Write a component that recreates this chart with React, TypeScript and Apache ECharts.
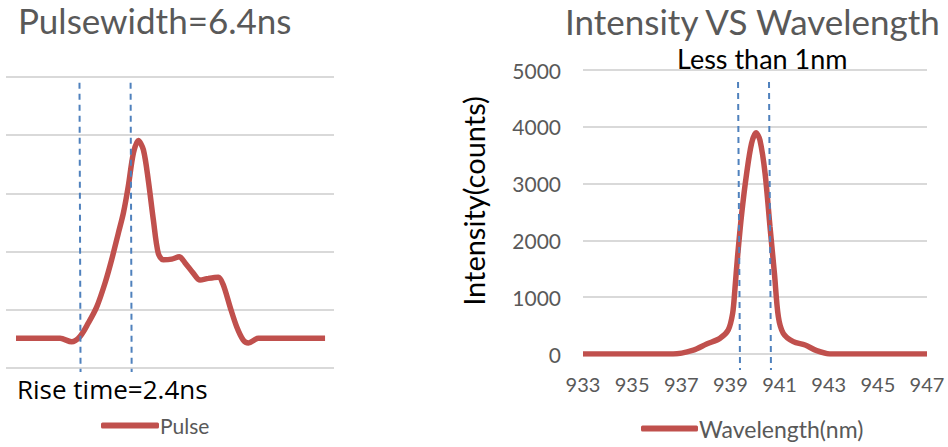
import React, { useEffect, useRef } from "react";
import * as echarts from "echarts";

// Left panel: pulse (time in ns, arbitrary amplitude units)
const pulseTime = [0.47, 2.54, 3.08, 3.47, 3.86, 4.26, 4.65, 4.96, 5.27, 5.51, 5.74, 5.98, 6.21, 6.45, 6.68, 6.92, 7.15, 7.38, 7.78, 8.14, 8.4, 8.79, 9.11, 9.5, 9.97, 10.2, 10.52, 10.83, 11.14, 11.38, 11.85, 14.98];
const pulseAmp = [0.51, 0.51, 0.45, 0.54, 0.77, 1.05, 1.46, 1.86, 2.31, 2.66, 3.12, 3.69, 3.91, 3.75, 3.23, 2.54, 1.97, 1.86, 1.87, 1.91, 1.81, 1.63, 1.51, 1.54, 1.56, 1.43, 1.05, 0.71, 0.48, 0.43, 0.51, 0.51];
const riseStartX = [3.45, 3.5];
const riseEndX = [5.85, 5.9];
const riseLineY = [4.9, -0.07];

// Right panel: spectrum
const wavelength = [933.0, 936.67, 937.49, 938.03, 938.57, 938.91, 939.09, 939.18, 939.29, 939.46, 939.66, 939.86, 940.04, 940.2, 940.41, 940.61, 940.79, 940.95, 941.15, 941.56, 942.04, 942.51, 943.05, 947.0];
const intensity = [0, 0, 70, 176, 276, 423, 716, 1127, 1713, 2477, 3181, 3709, 3896, 3768, 3181, 2241, 1420, 657, 364, 217, 158, 58, 0, 0];
const fwhmLeftX = [939.31, 939.39];
const fwhmRightX = [940.57, 940.65];
const fwhmLineY = [4789, -282];

const FONT = "Lato";
const RED = "#C0504D";
const BLUE = "#4F81BD";
const GRAY = "#595959";
const GRID = "#D9D9D9";

export default function App() {
  const ref = useRef<HTMLDivElement>(null);
  useEffect(() => {
    if (!ref.current) return;
    const chart = echarts.init(ref.current, null, { renderer: "svg" });
    const dash = (xs: number[], ys: number[], xi: number) => ({
      type: "line",
      xAxisIndex: xi,
      yAxisIndex: xi,
      data: [[xs[0], ys[0]], [xs[1], ys[1]]],
      showSymbol: false,
      symbol: "none",
      clip: false,
      silent: true,
      lineStyle: { color: BLUE, width: 2, type: [6, 5] },
      z: 3,
    });
    chart.setOption({
      animation: false,
      textStyle: { fontFamily: FONT },
      grid: [
        { left: 6, right: 614, top: 77, bottom: 79 },
        { left: 583, right: 21, top: 70, bottom: 93 },
      ],
      xAxis: [
        { type: "value", gridIndex: 0, min: 0, max: 15.4, show: false, splitLine: { show: false } },
        {
          type: "value", gridIndex: 1, min: 933, max: 947, interval: 2,
          axisLine: { show: false }, axisTick: { show: false }, splitLine: { show: false },
          axisLabel: { color: GRAY, fontSize: 20, fontFamily: FONT, margin: 20, formatter: (v: number) => String(v) },
        },
      ],
      yAxis: [
        {
          type: "value", gridIndex: 0, min: 0, max: 5, interval: 1,
          axisLine: { show: false }, axisTick: { show: false }, axisLabel: { show: false },
          splitLine: { lineStyle: { color: GRID, width: 2 } },
        },
        {
          type: "value", gridIndex: 1, min: 0, max: 5000, interval: 1000,
          axisLine: { show: false }, axisTick: { show: false },
          axisLabel: { color: GRAY, fontSize: 21, fontFamily: FONT, margin: 22, formatter: (v: number) => String(v) },
          splitLine: { lineStyle: { color: GRID, width: 2 } },
        },
      ],
      legend: [
        {
          data: ["Pulse"], left: 96, top: 410, icon: "roundRect", itemWidth: 58, itemHeight: 6, itemGap: 4,
          textStyle: { color: GRAY, fontSize: 21, fontFamily: FONT, padding: [0, 0, 0, -4] },
        },
        {
          data: ["Wavelength(nm)"], left: 636, top: 412, icon: "roundRect", itemWidth: 57, itemHeight: 6, itemGap: 4,
          textStyle: { color: GRAY, fontSize: 23, fontFamily: FONT, padding: [0, 0, 0, -4] },
        },
      ],
      graphic: [
        { type: "text", left: 18, top: 2, style: { text: "Pulsewidth=6.4ns", fill: GRAY, font: `35px ${FONT}`, lineHeight: 35 } },
        { type: "text", left: 565, top: 3, style: { text: "Intensity VS Wavelength", fill: GRAY, font: `35px ${FONT}`, lineHeight: 35 } },
        { type: "text", left: 17, top: 376, style: { text: "Rise time=2.4ns", fill: "#000", font: `26px "Open Sans"` } },
        { type: "text", left: 677, top: 45, style: { text: "Less than 1nm", fill: "#000", font: `27px ${FONT}`, lineHeight: 27 } },
        {
          type: "text", x: 473, y: 201, rotation: Math.PI / 2,
          style: { text: "Intensity(counts)", fill: "#000", font: `29px ${FONT}`, align: "center", verticalAlign: "middle" },
        },
      ],
      series: [
        {
          name: "Pulse", type: "line", xAxisIndex: 0, yAxisIndex: 0,
          data: pulseTime.map((t, i) => [t, pulseAmp[i]]),
          smooth: 0.3, showSymbol: false, symbol: "none",
          lineStyle: { color: RED, width: 5.5 }, itemStyle: { color: RED }, z: 2,
        },
        dash(riseStartX, riseLineY, 0),
        dash(riseEndX, riseLineY, 0),
        {
          name: "Wavelength(nm)", type: "line", xAxisIndex: 1, yAxisIndex: 1,
          data: wavelength.map((w, i) => [w, intensity[i]]),
          smooth: 0.3, showSymbol: false, symbol: "none",
          lineStyle: { color: RED, width: 5.5 }, itemStyle: { color: RED }, z: 2,
        },
        dash(fwhmLeftX, fwhmLineY, 1),
        dash(fwhmRightX, fwhmLineY, 1),
      ],
    });
    return () => chart.dispose();
  }, []);
  return (
    <div
      ref={ref}
      style={{ position: "fixed", left: 0, top: 0, width: 948, height: 447, background: "#fff" }}
    />
  );
}
